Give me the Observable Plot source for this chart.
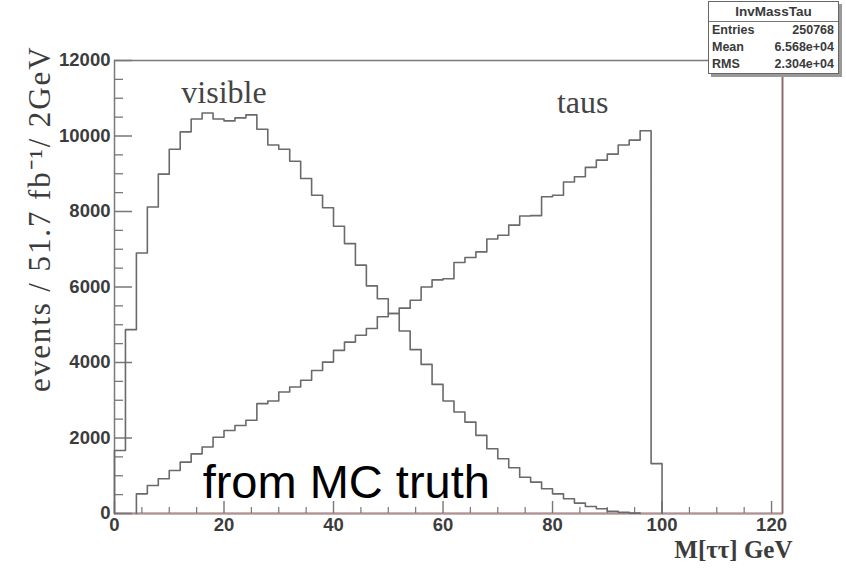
<!DOCTYPE html>
<html>
<head>
<meta charset="utf-8">
<script src="https://cdn.jsdelivr.net/npm/d3@7"></script>
<script src="https://cdn.jsdelivr.net/npm/@observablehq/plot@0.6"></script>
<style>
  html, body { margin: 0; padding: 0; background: #fff; }
  #wrap { position: relative; width: 846px; height: 568px; overflow: hidden; }
  #wrap svg { position: absolute; left: 0; top: 0; }
  #stats {
    position: absolute; left: 708px; top: 1px; width: 131px; height: 73px;
    border: 1.5px solid #666; background: #fff; box-shadow: 3px 3px 0 #999;
    font-family: "Liberation Sans", Arial, sans-serif; font-weight: bold; color: #3a3a3a;
    box-sizing: border-box;
  }
  #stats .hd { height: 19px; line-height: 19px; text-align: center; font-size: 13.5px; border-bottom: 1.5px solid #777; }
  #stats .row { display: flex; justify-content: space-between; height: 17.2px; line-height: 17.2px; font-size: 12.5px; padding: 0 4px 0 3px; }
</style>
</head>
<body>
<div id="wrap"></div>
<script>
// ---- data (bin width 2 GeV, bins start at 0) ----
const binWidth = 2;
const visible = [1670, 4870, 6900, 8120, 8990, 9650, 10110, 10450, 10610, 10450,
                 10400, 10480, 10560, 10180, 9760, 9650, 9330, 8875, 8430, 8100,
                 7610, 7150, 6580, 6030, 5690, 5300, 4835, 4340, 3950, 3420,
                 2980, 2690, 2420, 2070, 1715, 1450, 1210, 960, 830, 655,
                 520, 390, 275, 185, 125, 55, 30, 10];
const taus = [0, 0, 520, 740, 920, 1140, 1360, 1580, 1760, 2020,
              2200, 2330, 2470, 2910, 2980, 3220, 3350, 3530, 3790, 4010,
              4320, 4540, 4720, 4900, 5210, 5300, 5440, 5650, 6000, 6190,
              6220, 6650, 6780, 6930, 7270, 7370, 7640, 7880, 7890, 8390,
              8430, 8780, 8920, 9170, 9360, 9520, 9760, 9890, 10140, 1320];
const xTicks = [0, 20, 40, 60, 80, 100, 120];
const xMinorTicks = [5, 10, 15, 25, 30, 35, 45, 50, 55, 65, 70, 75, 85, 90, 95, 105, 110, 115];
const yTicks = [0, 2000, 4000, 6000, 8000, 10000, 12000];
const yMinorTicks = [500, 1000, 1500, 2500, 3000, 3500, 4500, 5000, 5500, 6500, 7000, 7500, 8500, 9000, 9500, 10500, 11000, 11500];
const xDomain = [0, 122];
const yDomain = [0, 12000];
const yTitle = "events / 51.7 fb⁻¹/ 2GeV";
const xTitle = "M[ττ] GeV";
const labels = [
  {text: "visible", x: 20, y: 10880},
  {text: "taus", x: 85.5, y: 10620}
];
const note = {text: "from MC truth", x: 16.1, y: 412};
const stats = {name: "InvMassTau", rows: [["Entries", "250768"], ["Mean", "6.568e+04"], ["RMS", "2.304e+04"]]};

// ---- build step outlines ----
function stepPoints(values, series) {
  const first = values.findIndex(v => v > 0);
  const pts = [{x: first * binWidth, y: 0, series}];
  values.forEach((v, i) => { if (i >= first) pts.push({x: i * binWidth, y: v, series}); });
  pts.push({x: values.length * binWidth, y: 0, series});
  return pts;
}
const outline = [...stepPoints(visible, "visible"), ...stepPoints(taus, "taus")];

const W = 846, H = 568, mL = 114, mR = 64, mT = 60, mB = 55;
const fw = W - mL - mR, fh = H - mT - mB;
const sans = "'Liberation Sans', Arial, Helvetica, sans-serif";
const serif = "'Liberation Serif', 'Times New Roman', serif";

const chart = Plot.plot({
  width: W, height: H,
  marginLeft: mL, marginRight: mR, marginTop: mT, marginBottom: mB,
  x: {domain: xDomain, axis: null},
  y: {domain: yDomain, axis: null},
  style: {background: "transparent", overflow: "visible"},
  marks: [
    Plot.frame({stroke: "#7a7a7a", strokeWidth: 1.5}),
    Plot.ruleX([xDomain[1]], {stroke: "#8a6a6a", strokeWidth: 1.6}),
    Plot.ruleY([0], {stroke: "#b09090", strokeWidth: 1.8}),
    // y ticks (inward)
    Plot.ruleY(yTicks, {y: d => d, insetRight: fw - 18, stroke: "#777", strokeWidth: 1.5}),
    Plot.ruleY(yMinorTicks, {y: d => d, insetRight: fw - 9, stroke: "#777", strokeWidth: 1.3}),
    // x ticks (inward)
    Plot.ruleX(xTicks, {x: d => d, insetTop: fh - 12, stroke: "#777", strokeWidth: 1.4}),
    Plot.ruleX(xMinorTicks, {x: d => d, insetTop: fh - 6, stroke: "#777", strokeWidth: 1.2}),
    // histograms
    Plot.line(outline, {x: "x", y: "y", z: "series", curve: "step-after", stroke: "#6a6a6a", strokeWidth: 1.6}),
    // tick labels
    Plot.text(yTicks, {y: d => d, text: d => String(d), frameAnchor: "left", textAnchor: "end", dx: -4,
      fontFamily: sans, fontWeight: "bold", fontSize: 18.5, fill: "#3c3c3c"}),
    Plot.text(xTicks, {x: d => d, text: d => String(d), frameAnchor: "bottom", lineAnchor: "top", dy: 4,
      fontFamily: sans, fontWeight: "bold", fontSize: 18.5, fill: "#3c3c3c"}),
    // axis titles
    Plot.text([xTitle], {frameAnchor: "bottom-right", textAnchor: "end", lineAnchor: "bottom", dx: 10, dy: 44,
      fontFamily: serif, fontWeight: "bold", fontSize: 25, fill: "#3c3c3c"}),
    Plot.text([yTitle], {frameAnchor: "top-left", rotate: -90, textAnchor: "end", lineAnchor: "middle",
      dx: -74, dy: -15, fontFamily: serif, fontSize: 31, fill: "#3c3c3c"}),
    // annotations
    Plot.text(labels, {x: "x", y: "y", text: "text", textAnchor: "middle", lineAnchor: "bottom",
      fontFamily: serif, fontSize: 32, fill: "#444"}),
    Plot.text([note], {x: "x", y: "y", text: "text", textAnchor: "start", lineAnchor: "bottom",
      fontFamily: sans, fontSize: 47, fill: "#000"})
  ]
});

// widen the y title's letter spacing as in the original
chart.querySelectorAll("text").forEach(t => {
  if (t.textContent === yTitle) t.style.letterSpacing = "1.9px";
});

const wrap = document.getElementById("wrap");
wrap.appendChild(chart);

const box = document.createElement("div");
box.id = "stats";
const hd = document.createElement("div");
hd.className = "hd"; hd.textContent = stats.name;
box.appendChild(hd);
for (const [k, v] of stats.rows) {
  const r = document.createElement("div");
  r.className = "row";
  const a = document.createElement("span"); a.textContent = k;
  const b = document.createElement("span"); b.textContent = v;
  r.appendChild(a); r.appendChild(b);
  box.appendChild(r);
}
wrap.appendChild(box);
</script>
</body>
</html>
